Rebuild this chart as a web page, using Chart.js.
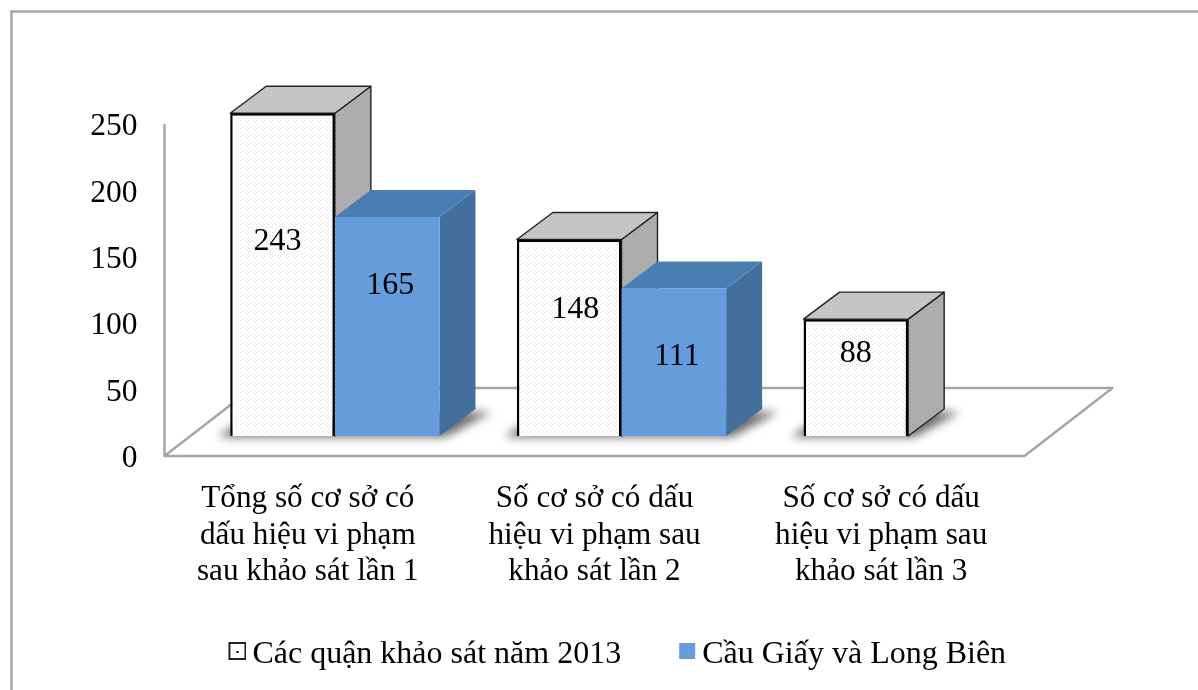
<!DOCTYPE html>
<html lang="vi">
<head>
<meta charset="utf-8">
<title>Cơ sở có dấu hiệu vi phạm</title>
<script src="https://cdn.jsdelivr.net/npm/chart.js@4/dist/chart.umd.js"></script>
<style>
  html, body { margin: 0; padding: 0; background: #fff; }
  canvas { display: block; }
</style>
</head>
<body>
<canvas id="chart" width="1198" height="690"></canvas>
<script>
const categories = [
  ["Tổng số cơ sở có", "dấu hiệu vi phạm", "sau khảo sát lần 1"],
  ["Số cơ sở có dấu", "hiệu vi phạm sau", "khảo sát lần 2"],
  ["Số cơ sở có dấu", "hiệu vi phạm sau", "khảo sát lần 3"],
];
const seriesNames = ["Các quận khảo sát năm 2013", "Cầu Giấy và Long Biên"];
const values2013 = [243, 148, 88];
const valuesCauGiay = [165, 111, null];

const FONT = "'Liberation Serif', 'Times New Roman', serif";
const DEPTH_X = 36; // chieu sau khoi 3D
const DEPTH_Y = 27;
const FLOOR_X = 27; // bars stand this far inside the floor
const FLOOR_Y = 20;
const GREY = "#a6a6a6";
const LEGEND_W = 55;

// small tile with a dot, used as fill for the dotted faces
function dotted(bg, dot, size) {
  const c = document.createElement("canvas");
  c.width = size;
  c.height = size;
  const g = c.getContext("2d");
  g.fillStyle = bg;
  g.fillRect(0, 0, size, size);
  g.fillStyle = dot;
  g.fillRect(0, 0, 1, 1);
  g.fillRect(size / 2, size / 2, 1, 1);
  return c;
}

const ctx = document.getElementById("chart").getContext("2d");
const frontFill = ctx.createPattern(dotted("#ffffff", "#dcdcdc", 4), "repeat");
const topFill = ctx.createPattern(dotted("#c6c6c6", "#bababa", 4), "repeat");
const sideFill = ctx.createPattern(dotted("#aeaeae", "#a0a0a0", 4), "repeat");

const faceStyles = [
  { top: topFill, side: sideFill, line: "#222222", lineWidth: 1.4 },
  { top: "#4a7db3", side: "#426f9c", line: null, lineWidth: 0 },
];

// legend swatches: wide transparent tile, the square sits at its top right end
function swatch(fill, border) {
  const c = document.createElement("canvas");
  c.width = LEGEND_W + 20;
  c.height = 26;
  const g = c.getContext("2d");
  g.translate(c.width - 18, 0);
  g.fillStyle = fill;
  g.fillRect(1, 1, 16, 16);
  if (border) {
    g.strokeStyle = border;
    g.lineWidth = 2;
    g.strokeRect(1, 1, 16, 16);
    g.fillStyle = "#000";
    g.fillRect(8, 9, 2, 2);
  }
  return c;
}
const legendMarks = [swatch("#ffffff", "#222222"), swatch("#659cdb", null)];

function poly(c, pts, fill, line, lineWidth) {
  c.beginPath();
  pts.forEach((p, i) => (i ? c.lineTo(p[0], p[1]) : c.moveTo(p[0], p[1])));
  c.closePath();
  c.fillStyle = fill;
  c.fill();
  if (line) {
    c.strokeStyle = line;
    c.lineWidth = lineWidth;
    c.lineJoin = "round";
    c.stroke();
  }
}

// frame, floor, axis wall, shadows and the top/side faces
const scene3d = {
  id: "scene3d",
  afterLayout(chart) {
    // legend is centred further right than the plot
    chart.legend.left += 38;
    chart.legend.right += 38;
  },
  beforeDraw(chart) {
    const c = chart.ctx;
    c.save();
    c.strokeStyle = GREY;
    c.lineWidth = 2.5;
    c.beginPath();
    c.moveTo(11.5, 690);
    c.lineTo(11.5, 11.5);
    c.lineTo(1198, 11.5);
    c.stroke();
    c.restore();
  },
  beforeDatasetsDraw(chart) {
    const c = chart.ctx;
    const a = chart.chartArea;
    const x0 = a.left - FLOOR_X;
    const x1 = a.right - FLOOR_X;
    const y0 = a.bottom + FLOOR_Y;
    const dx = 88;
    const dy = 68;
    c.save();

    // truc tung + san
    c.strokeStyle = GREY;
    c.lineWidth = 2.5;
    c.lineJoin = "round";
    c.beginPath();
    c.moveTo(x0, a.top + 20);
    c.lineTo(x0, y0);
    c.lineTo(x1, y0);
    c.lineTo(x1 + dx, y0 - dy);
    c.lineTo(x0 + dx, y0 - dy);
    c.lineTo(x0, y0);
    c.stroke();

    // shadows on the floor
    chart.getDatasetMeta(0).data.forEach((el, i) => {
      let right = el.x + el.width / 2;
      const blue = chart.getDatasetMeta(1).data[i];
      if (valuesCauGiay[i] !== null) right = blue.x + blue.width / 2;
      const left = el.x - el.width / 2;
      const base = el.base;
      c.save();
      c.filter = "blur(5px)";
      poly(c, [
        [left - 12, base + 1],
        [right + 6, base + 1],
        [right + DEPTH_X + 16, base - DEPTH_Y + 3],
        [right, base - DEPTH_Y + 3],
        [left, base - 8],
      ], "#6a6a6a");
      c.restore();
    });

    // top and side of each bar; later series goes over earlier one
    chart.data.datasets.forEach((ds, d) => {
      const st = faceStyles[d];
      chart.getDatasetMeta(d).data.forEach((el, i) => {
        if (ds.data[i] === null) return;
        const l = el.x - el.width / 2;
        const r = el.x + el.width / 2;
        poly(c, [[r, el.y], [r + DEPTH_X, el.y - DEPTH_Y], [r + DEPTH_X, el.base - DEPTH_Y], [r, el.base]],
          st.side, st.line, st.lineWidth);
        poly(c, [[l, el.y], [l + DEPTH_X, el.y - DEPTH_Y], [r + DEPTH_X, el.y - DEPTH_Y], [r, el.y]],
          st.top, st.line, st.lineWidth);
      });
    });
    c.restore();
  },
};

// value labels sit where they were placed by hand in the original
const labelShift = [
  [[-5, -33], [6, -28], [0, -24]],
  [[3, -41], [3, -6]],
];
const valueLabels = {
  id: "valueLabels",
  afterDatasetsDraw(chart) {
    const c = chart.ctx;
    c.save();
    c.font = `32px ${FONT}`;
    c.fillStyle = "#000";
    c.textAlign = "center";
    c.textBaseline = "middle";
    chart.data.datasets.forEach((ds, d) => {
      chart.getDatasetMeta(d).data.forEach((el, i) => {
        if (ds.data[i] === null) return;
        const s = labelShift[d][i];
        c.fillText(ds.data[i], el.x + s[0], (el.y + el.base) / 2 + s[1]);
      });
    });
    c.restore();
  },
};

new Chart(ctx, {
  type: "bar",
  data: {
    labels: categories,
    datasets: [
      {
        label: seriesNames[0],
        data: values2013,
        backgroundColor: frontFill,
        borderColor: "#000000",
        borderWidth: 2.5,
      },
      {
        label: seriesNames[1],
        data: valuesCauGiay,
        backgroundColor: "#659cdb",
        borderWidth: 0,
      },
    ],
  },
  plugins: [scene3d, valueLabels],
  options: {
    responsive: false,
    animation: false,
    categoryPercentage: 0.73,
    barPercentage: 1,
    layout: { padding: { left: 60, right: 146.5, top: 104, bottom: 9 } },
    plugins: {
      tooltip: { enabled: false },
      title: { display: false },
      legend: {
        display: true,
        position: "bottom",
        labels: {
          usePointStyle: true,
          pointStyleWidth: LEGEND_W,
          padding: 10,
          color: "#000",
          font: { family: FONT, size: 32 },
          generateLabels: () =>
            seriesNames.map((name, i) => ({
              text: name,
              pointStyle: legendMarks[i],
              datasetIndex: i,
              lineWidth: 0,
            })),
        },
      },
    },
    scales: {
      x: {
        grid: { display: false },
        border: { display: false },
        ticks: {
          color: "#000",
          autoSkip: false,
          maxRotation: 0,
          labelOffset: -FLOOR_X,
          padding: 37,
          font: { family: FONT, size: 31.2, lineHeight: 1.17 },
        },
        afterFit(scale) {
          scale.height = 193;
        },
      },
      y: {
        min: 0,
        max: 250,
        grid: { display: false, drawTicks: false },
        border: { display: false },
        ticks: {
          stepSize: 50,
          color: "#000",
          padding: 54,
          labelOffset: FLOOR_Y + 3,
          font: { family: FONT, size: 31.5 },
        },
        afterFit(scale) {
          scale.width = 131.5;
        },
      },
    },
  },
});
</script>
</body>
</html>
